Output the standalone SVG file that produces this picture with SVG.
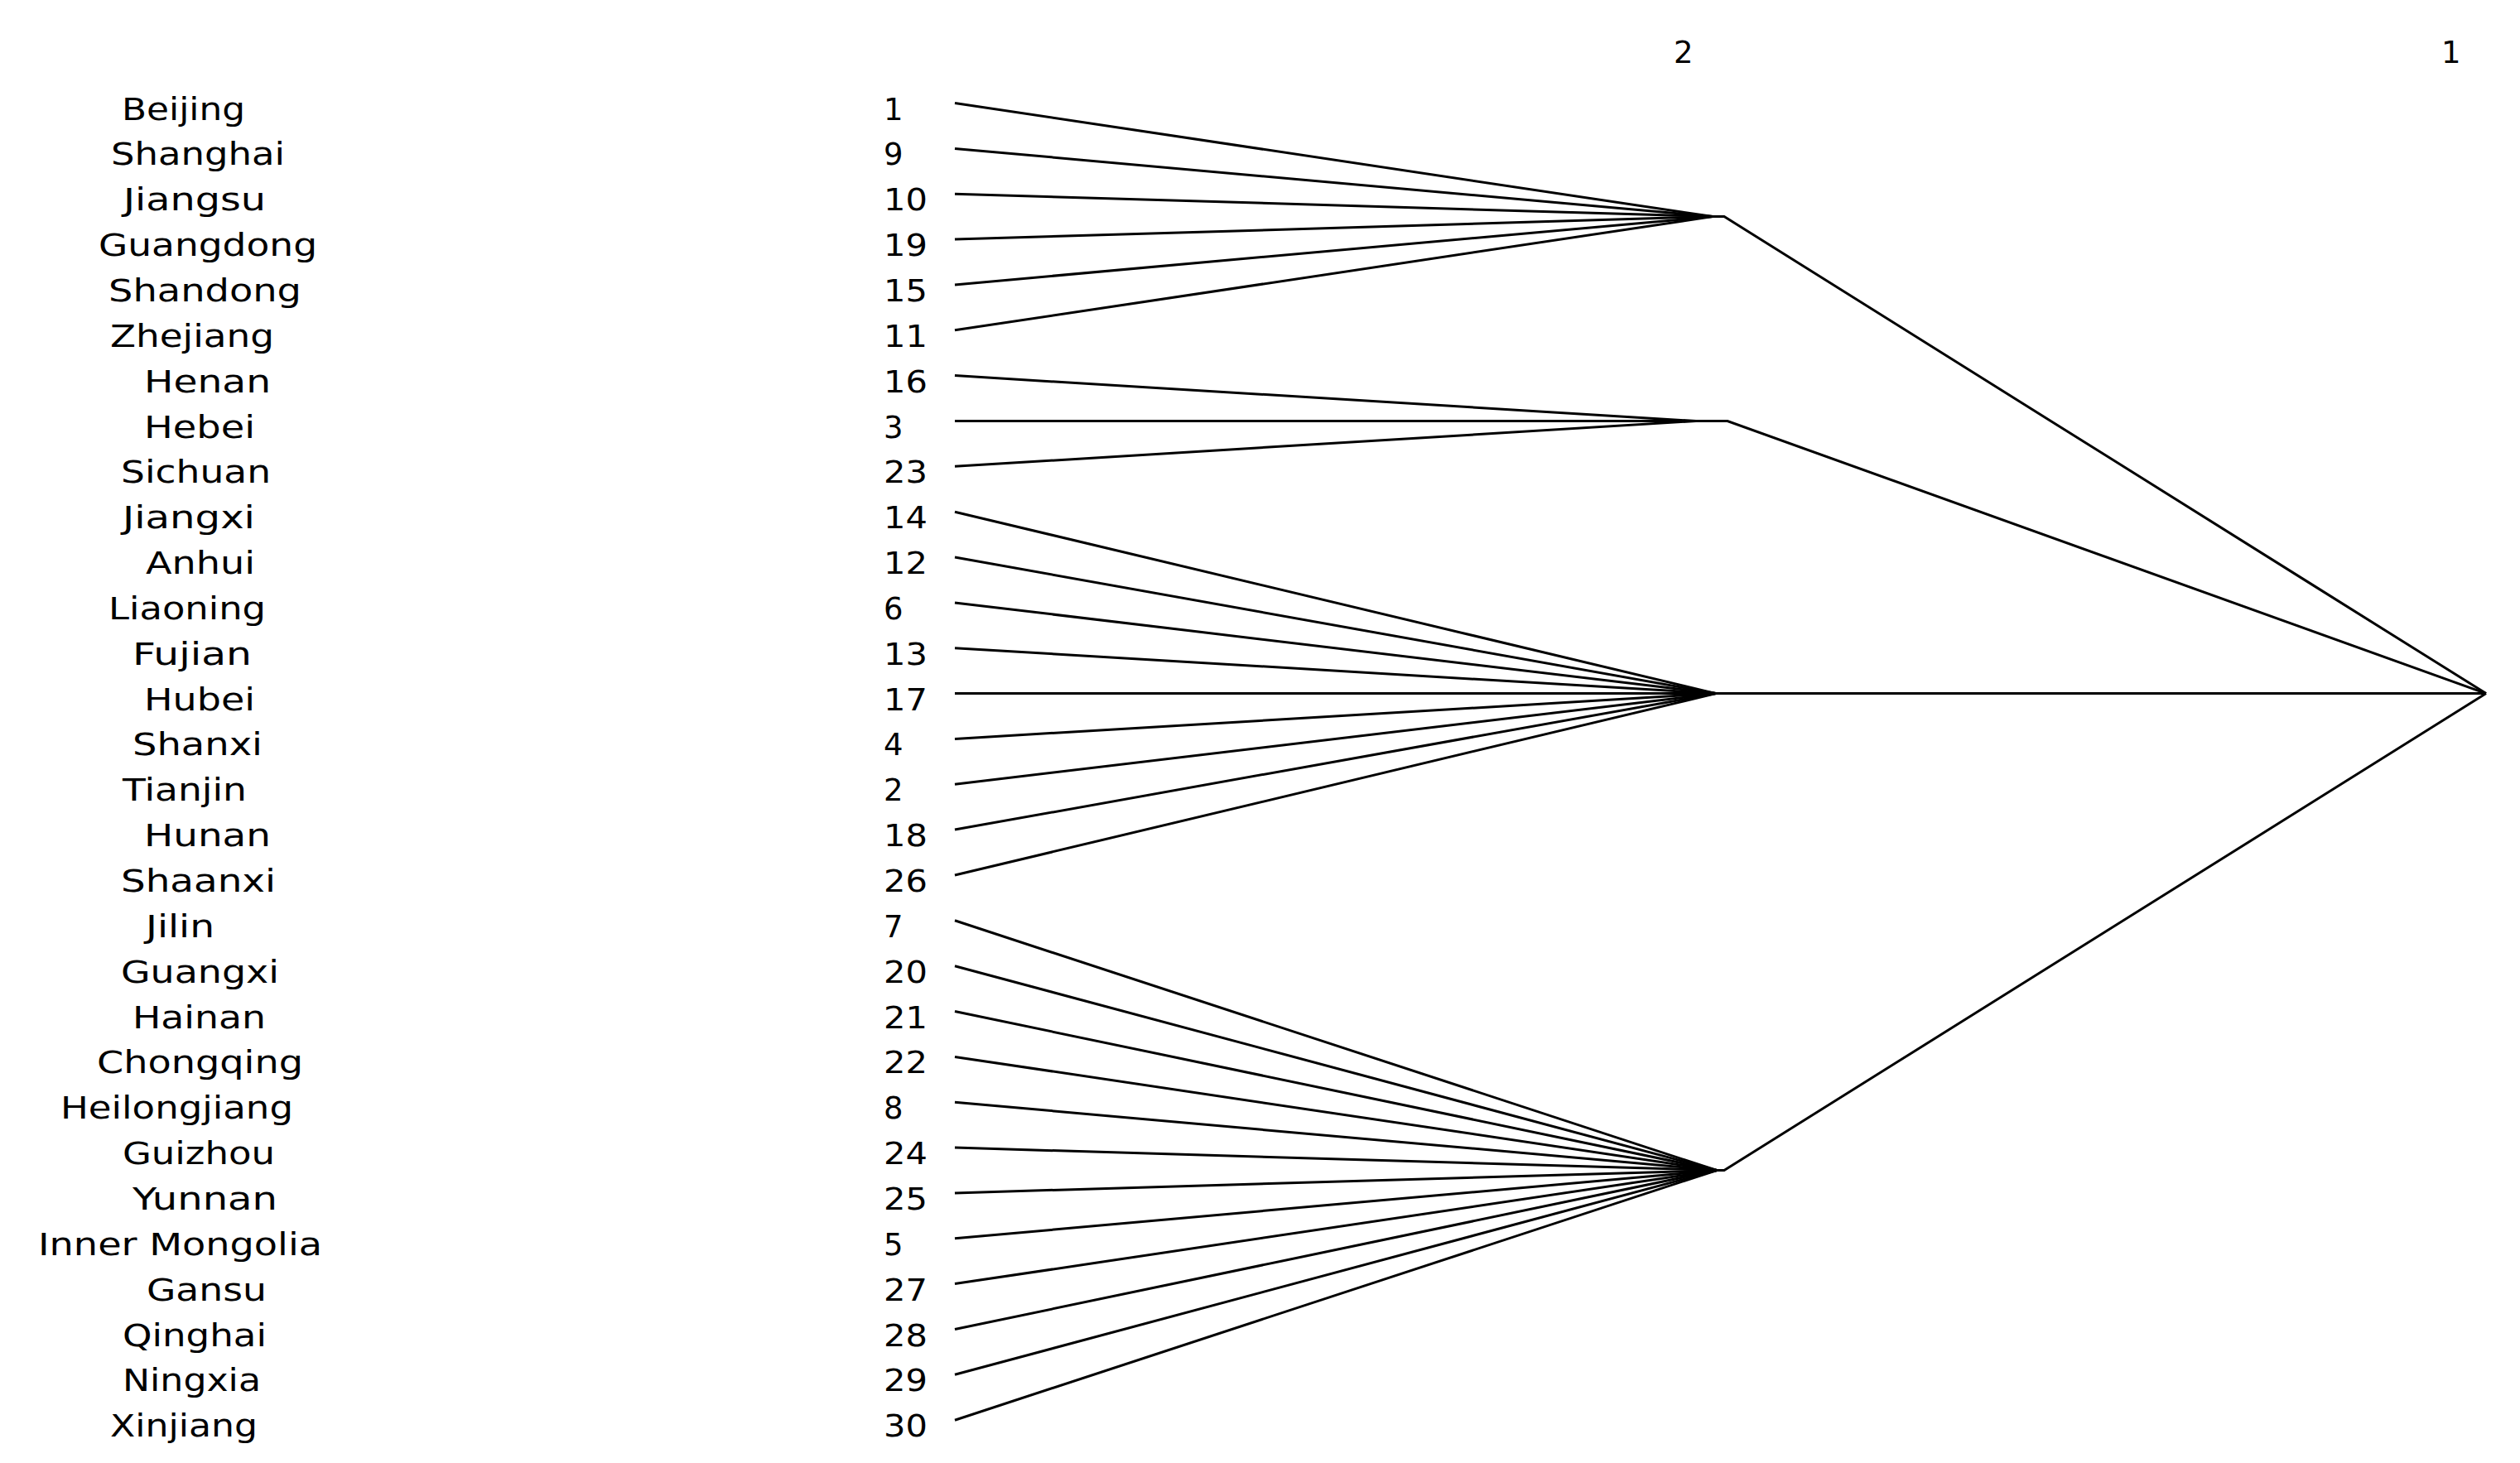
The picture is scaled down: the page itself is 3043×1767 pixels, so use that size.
<svg xmlns="http://www.w3.org/2000/svg" width="3043" height="1767" viewBox="0 0 3043 1767">
<style>
text{font-family:"DejaVu Sans","Liberation Sans",sans-serif;font-size:37px;fill:#000}
.c line,.c polyline{stroke:#000;stroke-width:3;fill:none}
</style>
<rect width="3043" height="1767" fill="#fff"/>
<g id="level-labels">
<text x="2021" y="76">2</text>
<text x="2948" y="76">1</text>
</g>
<g class="c" id="connectors">
<line x1="1153" y1="124.5" x2="2068" y2="261.6"/>
<line x1="1153" y1="179.4" x2="2068" y2="261.6"/>
<line x1="1153" y1="234.2" x2="2068" y2="261.6"/>
<line x1="1153" y1="289.1" x2="2068" y2="261.6"/>
<line x1="1153" y1="343.9" x2="2068" y2="261.6"/>
<line x1="1153" y1="398.8" x2="2068" y2="261.6"/>
<line x1="1153" y1="453.6" x2="2048" y2="508.5"/>
<line x1="1153" y1="508.5" x2="2048" y2="508.5"/>
<line x1="1153" y1="563.3" x2="2048" y2="508.5"/>
<line x1="1153" y1="618.2" x2="2072" y2="837.6"/>
<line x1="1153" y1="673" x2="2072" y2="837.6"/>
<line x1="1153" y1="727.9" x2="2072" y2="837.6"/>
<line x1="1153" y1="782.7" x2="2072" y2="837.6"/>
<line x1="1153" y1="837.6" x2="2072" y2="837.6"/>
<line x1="1153" y1="892.4" x2="2072" y2="837.6"/>
<line x1="1153" y1="947.3" x2="2072" y2="837.6"/>
<line x1="1153" y1="1002.1" x2="2072" y2="837.6"/>
<line x1="1153" y1="1057" x2="2072" y2="837.6"/>
<line x1="1153" y1="1111.8" x2="2073" y2="1413.5"/>
<line x1="1153" y1="1166.7" x2="2073" y2="1413.5"/>
<line x1="1153" y1="1221.5" x2="2073" y2="1413.5"/>
<line x1="1153" y1="1276.4" x2="2073" y2="1413.5"/>
<line x1="1153" y1="1331.2" x2="2073" y2="1413.5"/>
<line x1="1153" y1="1386.1" x2="2073" y2="1413.5"/>
<line x1="1153" y1="1440.9" x2="2073" y2="1413.5"/>
<line x1="1153" y1="1495.8" x2="2073" y2="1413.5"/>
<line x1="1153" y1="1550.6" x2="2073" y2="1413.5"/>
<line x1="1153" y1="1605.5" x2="2073" y2="1413.5"/>
<line x1="1153" y1="1660.3" x2="2073" y2="1413.5"/>
<line x1="1153" y1="1715.2" x2="2073" y2="1413.5"/>
<polyline points="2068,261.6 2082,261.6 3002,837.6"/>
<polyline points="2048,508.5 2086,508.5 3002,837.6"/>
<line x1="2072" y1="837.6" x2="3002" y2="837.6"/>
<polyline points="2073,1413.5 2082,1413.5 3002,837.6"/>
</g>
<g id="n-beijing" transform="translate(0,124.5)"><text x="147" y="20" textLength="149" lengthAdjust="spacingAndGlyphs">Beijing</text><text x="1067" y="20">1</text></g>
<g id="n-shanghai" transform="translate(0,179.4)"><text x="134" y="20" textLength="210" lengthAdjust="spacingAndGlyphs">Shanghai</text><text x="1067" y="20">9</text></g>
<g id="n-jiangsu" transform="translate(0,234.2)"><text x="149" y="20" textLength="172" lengthAdjust="spacingAndGlyphs">Jiangsu</text><text x="1067" y="20" textLength="53" lengthAdjust="spacingAndGlyphs">10</text></g>
<g id="n-guangdong" transform="translate(0,289.1)"><text x="119" y="20" textLength="264" lengthAdjust="spacingAndGlyphs">Guangdong</text><text x="1067" y="20" textLength="53" lengthAdjust="spacingAndGlyphs">19</text></g>
<g id="n-shandong" transform="translate(0,343.9)"><text x="131" y="20" textLength="233" lengthAdjust="spacingAndGlyphs">Shandong</text><text x="1067" y="20" textLength="53" lengthAdjust="spacingAndGlyphs">15</text></g>
<g id="n-zhejiang" transform="translate(0,398.8)"><text x="133" y="20" textLength="198" lengthAdjust="spacingAndGlyphs">Zhejiang</text><text x="1067" y="20" textLength="53" lengthAdjust="spacingAndGlyphs">11</text></g>
<g id="n-henan" transform="translate(0,453.6)"><text x="174" y="20" textLength="153" lengthAdjust="spacingAndGlyphs">Henan</text><text x="1067" y="20" textLength="53" lengthAdjust="spacingAndGlyphs">16</text></g>
<g id="n-hebei" transform="translate(0,508.5)"><text x="174" y="20" textLength="134" lengthAdjust="spacingAndGlyphs">Hebei</text><text x="1067" y="20">3</text></g>
<g id="n-sichuan" transform="translate(0,563.3)"><text x="146" y="20" textLength="181" lengthAdjust="spacingAndGlyphs">Sichuan</text><text x="1067" y="20" textLength="53" lengthAdjust="spacingAndGlyphs">23</text></g>
<g id="n-jiangxi" transform="translate(0,618.2)"><text x="148" y="20" textLength="160" lengthAdjust="spacingAndGlyphs">Jiangxi</text><text x="1067" y="20" textLength="53" lengthAdjust="spacingAndGlyphs">14</text></g>
<g id="n-anhui" transform="translate(0,673)"><text x="176" y="20" textLength="132" lengthAdjust="spacingAndGlyphs">Anhui</text><text x="1067" y="20" textLength="53" lengthAdjust="spacingAndGlyphs">12</text></g>
<g id="n-liaoning" transform="translate(0,727.9)"><text x="131" y="20" textLength="190" lengthAdjust="spacingAndGlyphs">Liaoning</text><text x="1067" y="20">6</text></g>
<g id="n-fujian" transform="translate(0,782.7)"><text x="160" y="20" textLength="144" lengthAdjust="spacingAndGlyphs">Fujian</text><text x="1067" y="20" textLength="53" lengthAdjust="spacingAndGlyphs">13</text></g>
<g id="n-hubei" transform="translate(0,837.6)"><text x="174" y="20" textLength="134" lengthAdjust="spacingAndGlyphs">Hubei</text><text x="1067" y="20" textLength="53" lengthAdjust="spacingAndGlyphs">17</text></g>
<g id="n-shanxi" transform="translate(0,892.4)"><text x="160" y="20" textLength="157" lengthAdjust="spacingAndGlyphs">Shanxi</text><text x="1067" y="20">4</text></g>
<g id="n-tianjin" transform="translate(0,947.3)"><text x="148" y="20" textLength="150" lengthAdjust="spacingAndGlyphs">Tianjin</text><text x="1067" y="20">2</text></g>
<g id="n-hunan" transform="translate(0,1002.1)"><text x="174" y="20" textLength="153" lengthAdjust="spacingAndGlyphs">Hunan</text><text x="1067" y="20" textLength="53" lengthAdjust="spacingAndGlyphs">18</text></g>
<g id="n-shaanxi" transform="translate(0,1057)"><text x="146" y="20" textLength="187" lengthAdjust="spacingAndGlyphs">Shaanxi</text><text x="1067" y="20" textLength="53" lengthAdjust="spacingAndGlyphs">26</text></g>
<g id="n-jilin" transform="translate(0,1111.8)"><text x="176" y="20" textLength="83" lengthAdjust="spacingAndGlyphs">Jilin</text><text x="1067" y="20">7</text></g>
<g id="n-guangxi" transform="translate(0,1166.7)"><text x="146" y="20" textLength="191" lengthAdjust="spacingAndGlyphs">Guangxi</text><text x="1067" y="20" textLength="53" lengthAdjust="spacingAndGlyphs">20</text></g>
<g id="n-hainan" transform="translate(0,1221.5)"><text x="160" y="20" textLength="161" lengthAdjust="spacingAndGlyphs">Hainan</text><text x="1067" y="20" textLength="53" lengthAdjust="spacingAndGlyphs">21</text></g>
<g id="n-chongqing" transform="translate(0,1276.4)"><text x="117" y="20" textLength="249" lengthAdjust="spacingAndGlyphs">Chongqing</text><text x="1067" y="20" textLength="53" lengthAdjust="spacingAndGlyphs">22</text></g>
<g id="n-heilongjiang" transform="translate(0,1331.2)"><text x="73" y="20" textLength="281" lengthAdjust="spacingAndGlyphs">Heilongjiang</text><text x="1067" y="20">8</text></g>
<g id="n-guizhou" transform="translate(0,1386.1)"><text x="148" y="20" textLength="184" lengthAdjust="spacingAndGlyphs">Guizhou</text><text x="1067" y="20" textLength="53" lengthAdjust="spacingAndGlyphs">24</text></g>
<g id="n-yunnan" transform="translate(0,1440.9)"><text x="160" y="20" textLength="175" lengthAdjust="spacingAndGlyphs">Yunnan</text><text x="1067" y="20" textLength="53" lengthAdjust="spacingAndGlyphs">25</text></g>
<g id="n-innermongolia" transform="translate(0,1495.8)"><text x="46" y="20" textLength="343" lengthAdjust="spacingAndGlyphs">Inner Mongolia</text><text x="1067" y="20">5</text></g>
<g id="n-gansu" transform="translate(0,1550.6)"><text x="177" y="20" textLength="145" lengthAdjust="spacingAndGlyphs">Gansu</text><text x="1067" y="20" textLength="53" lengthAdjust="spacingAndGlyphs">27</text></g>
<g id="n-qinghai" transform="translate(0,1605.5)"><text x="148" y="20" textLength="174" lengthAdjust="spacingAndGlyphs">Qinghai</text><text x="1067" y="20" textLength="53" lengthAdjust="spacingAndGlyphs">28</text></g>
<g id="n-ningxia" transform="translate(0,1660.3)"><text x="148" y="20" textLength="167" lengthAdjust="spacingAndGlyphs">Ningxia</text><text x="1067" y="20" textLength="53" lengthAdjust="spacingAndGlyphs">29</text></g>
<g id="n-xinjiang" transform="translate(0,1715.2)"><text x="133" y="20" textLength="178" lengthAdjust="spacingAndGlyphs">Xinjiang</text><text x="1067" y="20" textLength="53" lengthAdjust="spacingAndGlyphs">30</text></g>
</svg>
